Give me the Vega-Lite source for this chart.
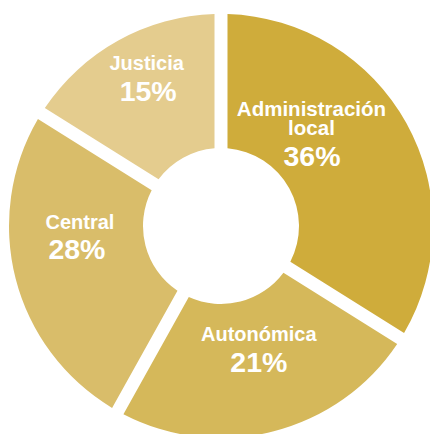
{
  "$schema": "https://vega.github.io/schema/vega-lite/v6.json",
  "autosize": {"type": "none"},
  "width": 418,
  "height": 416,
  "padding": {"left": 12, "top": 18, "right": 0, "bottom": 0},
  "background": "white",
  "config": {"view": {"stroke": null}},
  "data": {
    "values": [
      {"tipo": "Administración local", "nombre": "Administración\nlocal", "porcentaje": "36%", "angulo": 33.9},
      {"tipo": "Autonómica", "nombre": "Autonómica", "porcentaje": "21%", "angulo": 24.2},
      {"tipo": "Central", "nombre": "Central", "porcentaje": "28%", "angulo": 25.8},
      {"tipo": "Justicia", "nombre": "Justicia", "porcentaje": "15%", "angulo": 16.1}
    ]
  },
  "encoding": {
    "theta": {"field": "angulo", "type": "quantitative", "stack": true},
    "order": {"field": "tipo", "type": "ordinal", "sort": "ascending"}
  },
  "layer": [
    {
      "mark": {"type": "arc", "outerRadius": 212, "innerRadius": 78, "padAngle": 0.0575},
      "encoding": {
        "color": {
          "field": "tipo",
          "type": "nominal",
          "scale": {
            "domain": ["Administración local", "Autonómica", "Central", "Justicia"],
            "range": ["#CFAC3B", "#D5B85A", "#D9BD6A", "#E4CC8E"]
          },
          "legend": null
        }
      }
    },
    {
      "mark": {"type": "text", "radius": 140, "dx": -32, "dy": -42, "baseline": "alphabetic", "align": "center", "font": "Liberation Sans", "fontSize": 20.5, "fontWeight": "bold", "fill": "white", "lineBreak": "\n", "lineHeight": 19},
      "encoding": {"text": {"condition": {"test": "datum.tipo === 'Administración local'", "field": "nombre"}, "value": ""}}
    },
    {
      "mark": {"type": "text", "radius": 140, "dx": -31.5, "dy": 8, "baseline": "alphabetic", "align": "center", "font": "Liberation Sans", "fontSize": 28.5, "fontWeight": "bold", "fill": "white"},
      "encoding": {"text": {"condition": {"test": "datum.tipo === 'Administración local'", "field": "porcentaje"}, "value": ""}}
    },
    {
      "mark": {"type": "text", "radius": 140, "dx": -6.5, "dy": -33.5, "baseline": "alphabetic", "align": "center", "font": "Liberation Sans", "fontSize": 20, "fontWeight": "bold", "fill": "white"},
      "encoding": {"text": {"condition": {"test": "datum.tipo === 'Justicia'", "field": "nombre"}, "value": ""}}
    },
    {
      "mark": {"type": "text", "radius": 140, "dx": -5, "dy": -2.5, "baseline": "alphabetic", "align": "center", "font": "Liberation Sans", "fontSize": 28.5, "fontWeight": "bold", "fill": "white"},
      "encoding": {"text": {"condition": {"test": "datum.tipo === 'Justicia'", "field": "porcentaje"}, "value": ""}}
    },
    {
      "mark": {"type": "text", "radius": 140, "dx": -5.5, "dy": -32, "baseline": "alphabetic", "align": "center", "font": "Liberation Sans", "fontSize": 20, "fontWeight": "bold", "fill": "white"},
      "encoding": {"text": {"condition": {"test": "datum.tipo === 'Central'", "field": "nombre"}, "value": ""}}
    },
    {
      "mark": {"type": "text", "radius": 140, "dx": -8.5, "dy": -2, "baseline": "alphabetic", "align": "center", "font": "Liberation Sans", "fontSize": 28.5, "fontWeight": "bold", "fill": "white"},
      "encoding": {"text": {"condition": {"test": "datum.tipo === 'Central'", "field": "porcentaje"}, "value": ""}}
    },
    {
      "mark": {"type": "text", "radius": 140, "dx": 3, "dy": -20.5, "baseline": "alphabetic", "align": "center", "font": "Liberation Sans", "fontSize": 20, "fontWeight": "bold", "fill": "white"},
      "encoding": {"text": {"condition": {"test": "datum.tipo === 'Autonómica'", "field": "nombre"}, "value": ""}}
    },
    {
      "mark": {"type": "text", "radius": 140, "dx": 3, "dy": 10.5, "baseline": "alphabetic", "align": "center", "font": "Liberation Sans", "fontSize": 28.5, "fontWeight": "bold", "fill": "white"},
      "encoding": {"text": {"condition": {"test": "datum.tipo === 'Autonómica'", "field": "porcentaje"}, "value": ""}}
    }
  ]
}
